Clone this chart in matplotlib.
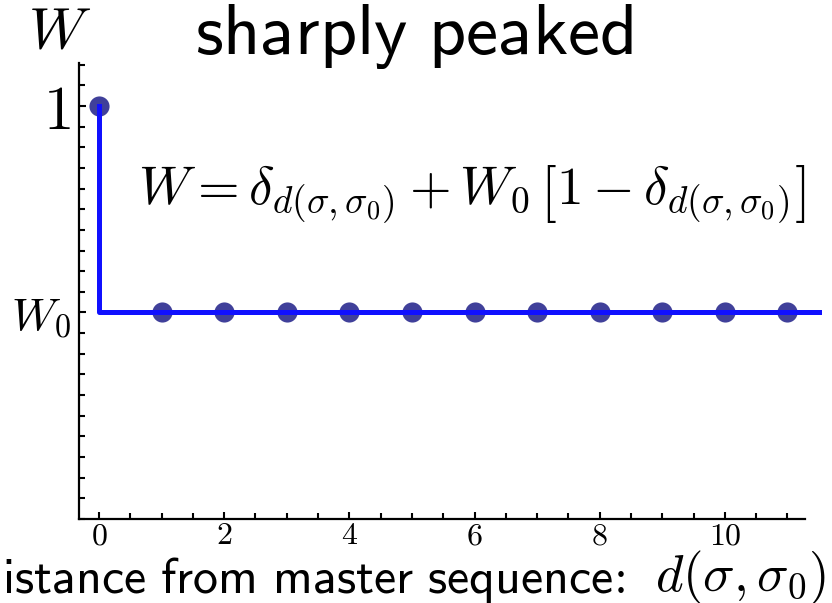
import numpy as np
import matplotlib as mpl
import matplotlib.pyplot as plt
from matplotlib.ticker import MultipleLocator

mpl.rcParams['mathtext.fontset'] = 'cm'

# fitness landscape: master sequence at d=0, flat W0 elsewhere
W0 = 0.5
d = [0, 1, 2, 3, 4, 5, 6, 7, 8, 9, 10, 11]
W = [1.0, W0, W0, W0, W0, W0, W0, W0, W0, W0, W0, W0]
line_d = [0, 0, 11.5]
line_W = [1.0, W0, W0]
xticks = [0, 2, 4, 6, 8, 10]

fig = plt.figure(figsize=(8.32, 6.03), dpi=100)
ax = fig.add_axes([79/832, 84/603, (805-79)/832, (519-63)/603])

ax.plot(d, W, 'o', color='#40409a', ms=14.5, mec='none', zorder=2)
ax.plot(line_d, line_W, color='#1010ff', lw=3.6, clip_on=False, zorder=3)

ax.set_xlim(-0.32, 11.28)
ax.set_ylim(0, 1.104)
ax.spines['top'].set_visible(False)
ax.spines['right'].set_visible(False)
for s in ['left', 'bottom']:
    ax.spines[s].set_linewidth(1.6)

ax.tick_params(which='both', direction='in', width=1.5)
ax.tick_params(which='major', length=5)
ax.tick_params(which='minor', length=4)
ax.tick_params(axis='x', pad=1)
ax.tick_params(axis='y', pad=6)

ax.set_xticks(xticks)
ax.set_xticklabels([r'$\mathrm{%d}$' % t for t in xticks], fontsize=23)
ax.xaxis.set_minor_locator(MultipleLocator(0.5))
ax.set_yticks([W0, 1.0])
ax.set_yticklabels([r'$W_0$', r'$1$'])
ax.get_yticklabels()[0].set_fontsize(33)
ax.get_yticklabels()[1].set_fontsize(44)
ax.yaxis.set_minor_locator(MultipleLocator(0.05))

fig.text(0.497, 0.94, r'$\mathsf{sharply\ peaked}$', ha='center', va='center', fontsize=52)
fig.text(0.072, 0.948, r'$W$', ha='center', va='center', fontsize=42)
ax.text(5.95, 0.785, r'$W = \delta_{d(\sigma,\sigma_0)} + W_0\,\left[1-\delta_{d(\sigma,\sigma_0)}\right]$',
        ha='center', va='center', fontsize=38.5)
fig.text(0.752, 0.038, r'$\mathsf{distance\ from\ master\ sequence\!:}$',
         ha='right', va='center', fontsize=36)
fig.text(0.787, 0.041, r'$d(\sigma,\sigma_0)$', ha='left', va='center', fontsize=38)

fig.savefig('out.png', dpi=100)
